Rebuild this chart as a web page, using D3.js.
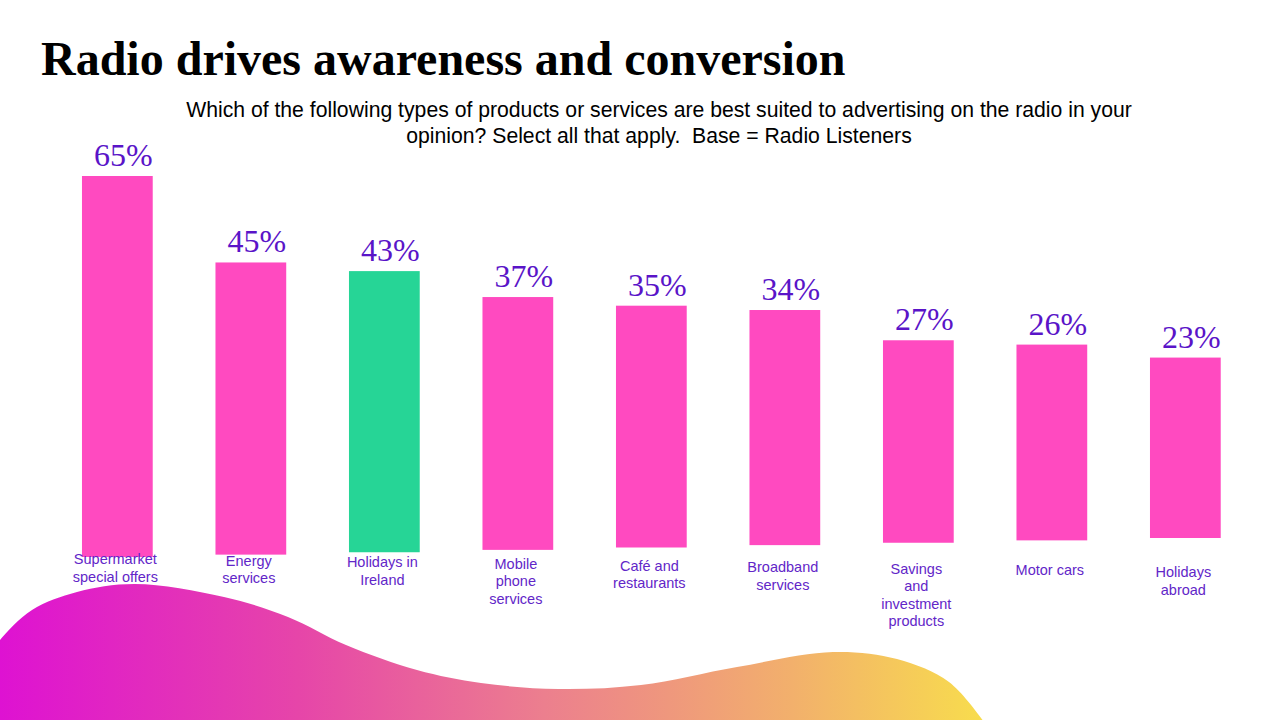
<!DOCTYPE html>
<html>
<head>
<meta charset="utf-8">
<script src="https://cdn.jsdelivr.net/npm/d3@7/dist/d3.min.js"></script>
<style>
  html, body { margin: 0; padding: 0; background: #ffffff; }
  svg { display: block; }
</style>
</head>
<body>
<svg id="chart" width="1280" height="720"></svg>
<script>
// ---- data ----
const categories = [
  "Supermarket special offers",
  "Energy services",
  "Holidays in Ireland",
  "Mobile phone services",
  "Café and restaurants",
  "Broadband services",
  "Savings and investment products",
  "Motor cars",
  "Holidays abroad"
];
const categoryLines = [
  ["Supermarket", "special offers"],
  ["Energy", "services"],
  ["Holidays in", "Ireland"],
  ["Mobile", "phone", "services"],
  ["Café and", "restaurants"],
  ["Broadband", "services"],
  ["Savings", "and", "investment", "products"],
  ["Motor cars"],
  ["Holidays", "abroad"]
];
const values = [65, 45, 43, 37, 35, 34, 27, 26, 23];
const highlighted = ["Holidays in Ireland"];
const titleText = "Radio drives awareness and conversion";
const subtitleLines = [
  "Which of the following types of products or services are best suited to advertising on the radio in your",
  "opinion? Select all that apply.  Base = Radio Listeners"
];

// ---- drawing ----
const svg = d3.select("#chart");
const W = 1280, H = 720;

// decorative wave at the bottom
const defs = svg.append("defs");
const grad = defs.append("linearGradient")
  .attr("id", "waveGrad").attr("gradientUnits", "userSpaceOnUse")
  .attr("x1", 0).attr("y1", 0).attr("x2", 990).attr("y2", 0);
[[0, "#de12d2"], [0.3, "#e645a9"], [0.55, "#ec7f8e"], [0.8, "#f2b06c"], [1, "#f8de4c"]]
  .forEach(([o, c]) => grad.append("stop").attr("offset", o).attr("stop-color", c));

const waveShape = [
  [-5, 648], [0, 640], [32, 610], [77, 592], [135, 584], [224, 597], [288, 617],
  [346, 645], [417, 670], [481, 683], [558, 689], [641, 685], [737, 667],
  [833, 652], [897, 659], [949, 682], [984, 722]
];
const waveLine = d3.line().curve(d3.curveCatmullRom.alpha(0.5));
svg.append("path")
  .attr("d", waveLine(waveShape) + `L984,${H}L-5,${H}Z`)
  .attr("fill", "url(#waveGrad)");

// title
svg.append("text")
  .attr("x", 41).attr("y", 75)
  .attr("font-family", "'Liberation Serif', 'Times New Roman', serif")
  .attr("font-weight", "bold")
  .attr("font-size", 48)
  .attr("fill", "#000")
  .text(titleText);

// subtitle
svg.append("g").selectAll("text").data(subtitleLines).join("text")
  .attr("x", 659).attr("y", (d, i) => 117 + i * 26)
  .attr("text-anchor", "middle")
  .attr("font-family", "'Liberation Sans', Arial, sans-serif")
  .attr("font-size", 21.2)
  .attr("fill", "#000")
  .style("white-space", "pre")
  .text(d => d);

// scales
const x = d3.scaleBand()
  .domain(categories)
  .range([50.6, 1252.1])
  .paddingInner(0.47)
  .paddingOuter(0.235);
const y = d3.scaleLinear().domain([0, 65]).range([457, 176]);
const baseline = d3.scaleLinear().domain([0, categories.length - 1]).range([557, 538]);
const labelBase = d3.scaleLinear().domain([0, categories.length - 1]).range([564, 577]);
const color = c => highlighted.includes(c) ? "#26d596" : "#ff4ac0";

const rows = categories.map((c, i) => ({ c, i, v: values[i], lines: categoryLines[i] }));

// bars
svg.append("g").selectAll("rect").data(rows).join("rect")
  .attr("x", d => x(d.c))
  .attr("width", x.bandwidth())
  .attr("y", d => y(d.v))
  .attr("height", d => baseline(d.i) - y(d.v))
  .attr("fill", d => color(d.c));

// value labels
svg.append("g").selectAll("text").data(rows).join("text")
  .attr("x", d => x(d.c) + x.bandwidth() / 2 + 6)
  .attr("y", d => y(d.v) - 10)
  .attr("text-anchor", "middle")
  .attr("font-family", "'Liberation Serif', 'Times New Roman', serif")
  .attr("font-size", 32)
  .attr("fill", "#5a14c8")
  .text(d => d.v + "%");

// category labels
const cat = svg.append("g").selectAll("text").data(rows).join("text")
  .attr("text-anchor", "middle")
  .attr("font-family", "'Liberation Sans', Arial, sans-serif")
  .attr("font-size", 14.5)
  .attr("fill", "#6226c8");
cat.selectAll("tspan").data(d => d.lines.map(l => ({ l, d }))).join("tspan")
  .attr("x", t => x(t.d.c) + x.bandwidth() / 2 - 2)
  .attr("y", (t, j) => labelBase(t.d.i) + j * 17.5)
  .text(t => t.l);
</script>
</body>
</html>
